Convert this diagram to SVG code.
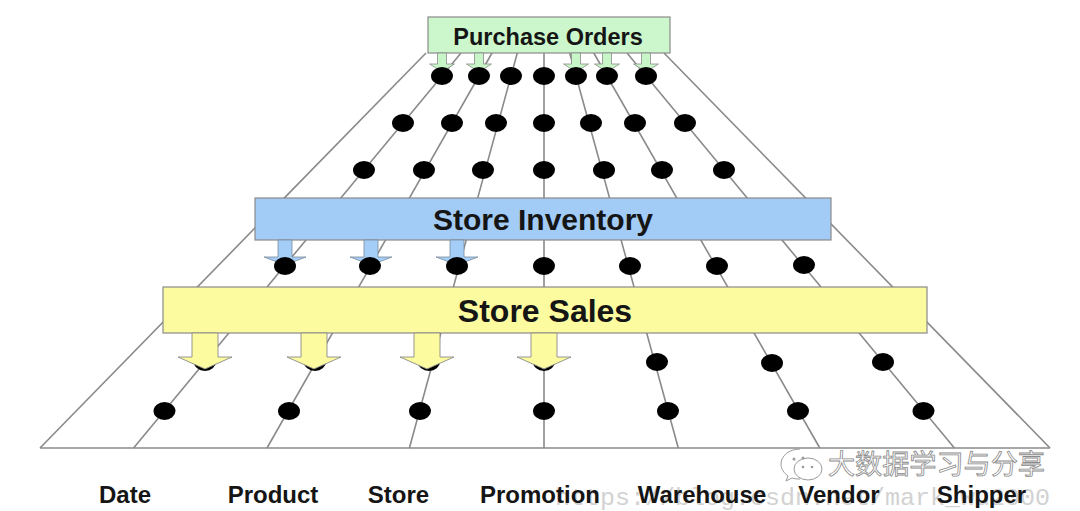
<svg xmlns="http://www.w3.org/2000/svg" width="1080" height="511" viewBox="0 0 1080 511">
<style>
.ln{stroke:#8a8a8a;stroke-width:1.6;fill:none}
.dot{fill:#000}
.box{stroke:#8a8a8a;stroke-width:1.2}
.t{font-family:"Liberation Sans",Arial,sans-serif;font-weight:bold;fill:#151515;text-anchor:middle}
.lab{font-family:"Liberation Sans",Arial,sans-serif;font-weight:bold;font-size:24px;fill:#151515;text-anchor:middle}
.ga{fill:#c8f5c8;stroke:#8a8a8a;stroke-width:0.8}
.ba{fill:#a4cdf7;stroke:#7a8a9a;stroke-width:0.8}
.ya{fill:#fdfb9f;stroke:#8a8a8a;stroke-width:0.9}
</style>
<rect width="1080" height="511" fill="#fff"/>
<g id="watermark-csdn">
<text x="555" y="505" font-family="'Liberation Mono',monospace" font-size="24" fill="#d2d2d2" textLength="495" lengthAdjust="spacingAndGlyphs">https://blog.csdn.net/mark_wu2000</text>
</g>
<g id="connectors">
<line class="ln" x1="40" y1="448" x2="1050" y2="448"/>
<line class="ln" x1="40" y1="448" x2="426" y2="53"/>
<line class="ln" x1="1050" y1="448" x2="664" y2="53"/>
<line class="ln" x1="461" y1="53" x2="133.6" y2="448"/>
<line class="ln" x1="492" y1="53" x2="267" y2="448"/>
<line class="ln" x1="517.3" y1="53" x2="409.4" y2="448"/>
<line class="ln" x1="544" y1="53" x2="544" y2="448"/>
<line class="ln" x1="569.7" y1="53" x2="678.3" y2="448"/>
<line class="ln" x1="593.8" y1="53" x2="819.8" y2="448"/>
<line class="ln" x1="627" y1="53" x2="954.4" y2="448"/>
</g>
<g id="purchase-orders">
<rect class="box" x="428" y="17" width="242" height="36" fill="#ccf7cc"/>
<text class="t" x="548" y="45" font-size="23.5">Purchase Orders</text>
<path class="ga" d="M437.5,53 v11 h-8 l12.5,8 l12.5,-8 h-8 v-11z"/>
<path class="ga" d="M474.5,53 v11 h-8 l12.5,8 l12.5,-8 h-8 v-11z"/>
<path class="ga" d="M571.5,53 v11 h-8 l12.5,8 l12.5,-8 h-8 v-11z"/>
<path class="ga" d="M602.5,53 v11 h-8 l12.5,8 l12.5,-8 h-8 v-11z"/>
<path class="ga" d="M641.5,53 v11 h-8 l12.5,8 l12.5,-8 h-8 v-11z"/>
</g>
<g id="dots-upper">
<ellipse class="dot" cx="442" cy="76" rx="11" ry="9"/>
<ellipse class="dot" cx="479" cy="76" rx="11" ry="9"/>
<ellipse class="dot" cx="511" cy="76" rx="11" ry="9"/>
<ellipse class="dot" cx="544" cy="76" rx="11" ry="9"/>
<ellipse class="dot" cx="576" cy="76" rx="11" ry="9"/>
<ellipse class="dot" cx="607" cy="76" rx="11" ry="9"/>
<ellipse class="dot" cx="646" cy="76" rx="11" ry="9"/>
<ellipse class="dot" cx="403" cy="123" rx="11" ry="9"/>
<ellipse class="dot" cx="452" cy="123" rx="11" ry="9"/>
<ellipse class="dot" cx="496" cy="123" rx="11" ry="9"/>
<ellipse class="dot" cx="544" cy="123" rx="11" ry="9"/>
<ellipse class="dot" cx="591" cy="123" rx="11" ry="9"/>
<ellipse class="dot" cx="635" cy="123" rx="11" ry="9"/>
<ellipse class="dot" cx="685" cy="123" rx="11" ry="9"/>
<ellipse class="dot" cx="364" cy="170" rx="11" ry="9"/>
<ellipse class="dot" cx="424" cy="170" rx="11" ry="9"/>
<ellipse class="dot" cx="483" cy="170" rx="11" ry="9"/>
<ellipse class="dot" cx="544" cy="170" rx="11" ry="9"/>
<ellipse class="dot" cx="604" cy="170" rx="11" ry="9"/>
<ellipse class="dot" cx="662" cy="170" rx="11" ry="9"/>
<ellipse class="dot" cx="724" cy="170" rx="11" ry="9"/>
</g>
<g id="store-inventory">
<rect class="box" x="255" y="198" width="576" height="42" fill="#a2cbf6"/>
<text class="t" x="543" y="230" font-size="30">Store Inventory</text>
<path class="ba" d="M278,240 v17 h-14 l21,8 l21,-8 h-14 v-17z"/>
<path class="ba" d="M364,240 v17 h-14 l21,8 l21,-8 h-14 v-17z"/>
<path class="ba" d="M450,240 v17 h-14 l21,8 l21,-8 h-14 v-17z"/>
</g>
<g id="dots-middle">
<ellipse class="dot" cx="285" cy="266" rx="11" ry="9"/>
<ellipse class="dot" cx="370" cy="266" rx="11" ry="9"/>
<ellipse class="dot" cx="457" cy="266" rx="11" ry="9"/>
<ellipse class="dot" cx="544" cy="266" rx="11" ry="9"/>
<ellipse class="dot" cx="630" cy="266" rx="11" ry="9"/>
<ellipse class="dot" cx="717" cy="266" rx="11" ry="9"/>
<ellipse class="dot" cx="804" cy="265" rx="11" ry="9"/>
<ellipse class="dot" cx="205" cy="362" rx="11" ry="9"/>
<ellipse class="dot" cx="315" cy="362" rx="11" ry="9"/>
<ellipse class="dot" cx="429" cy="362" rx="11" ry="9"/>
<ellipse class="dot" cx="544" cy="362" rx="11" ry="9"/>
<ellipse class="dot" cx="657" cy="362" rx="11" ry="9"/>
<ellipse class="dot" cx="772" cy="363" rx="11" ry="9"/>
<ellipse class="dot" cx="883" cy="362" rx="11" ry="9"/>
</g>
<g id="store-sales">
<rect class="box" x="163" y="287" width="764" height="46" fill="#fdfb9f"/>
<text class="t" x="545" y="322" font-size="32">Store Sales</text>
<path class="ya" d="M192,333 v24 h-14 l27,12 l27,-12 h-14 v-24z"/>
<path class="ya" d="M301,333 v24 h-14 l27,12 l27,-12 h-14 v-24z"/>
<path class="ya" d="M414,333 v24 h-14 l27,12 l27,-12 h-14 v-24z"/>
<path class="ya" d="M531,333 v24 h-14 l27,12 l27,-12 h-14 v-24z"/>
</g>
<g id="dots-lower">
<ellipse class="dot" cx="164.5" cy="411" rx="11" ry="9"/>
<ellipse class="dot" cx="289" cy="411" rx="11" ry="9"/>
<ellipse class="dot" cx="420" cy="411" rx="11" ry="9"/>
<ellipse class="dot" cx="544" cy="411" rx="11" ry="9"/>
<ellipse class="dot" cx="668" cy="411" rx="11" ry="9"/>
<ellipse class="dot" cx="798" cy="411" rx="11" ry="9"/>
<ellipse class="dot" cx="923.5" cy="411" rx="11" ry="9"/>
</g>
<g id="labels">
<text class="lab" x="125" y="503">Date</text>
<text class="lab" x="273" y="503">Product</text>
<text class="lab" x="398.5" y="503">Store</text>
<text class="lab" x="540" y="503">Promotion</text>
<text class="lab" x="702" y="503">Warehouse</text>
<text class="lab" x="839" y="503">Vendor</text>
<text class="lab" x="981.5" y="503">Shipper</text>
</g>
<g id="watermark-wechat">
<path d="M800,449 c-11,0 -19,7 -19,15 c0,5 3,9 7,12 l-2,5 l6,-3 c3,1 5,1 8,1" fill="#fff" stroke="#9a9a9a" stroke-width="1"/>
<ellipse cx="808" cy="469" rx="14" ry="11" fill="#fff" stroke="#9a9a9a" stroke-width="1"/>
<circle cx="794" cy="459" r="1.5" fill="#9a9a9a"/>
<circle cx="803" cy="458" r="1.5" fill="#9a9a9a"/>
<circle cx="803" cy="467" r="1.3" fill="#9a9a9a"/>
<circle cx="812" cy="467" r="1.3" fill="#9a9a9a"/>
<text x="828" y="474" font-family="'Noto Sans CJK SC',sans-serif" font-size="27" fill="#fff" stroke="#8a8a8a" stroke-width="0.8" textLength="217" lengthAdjust="spacingAndGlyphs">大数据学习与分享</text>
</g>
</svg>
